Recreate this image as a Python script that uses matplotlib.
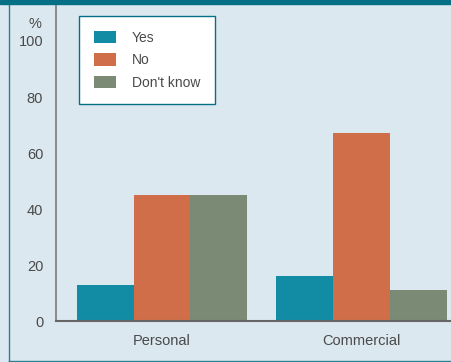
import numpy as np
import matplotlib.pyplot as plt
from matplotlib.patches import Rectangle
from matplotlib.lines import Line2D

# --- data ---
categories = ["Personal", "Commercial"]
series = ["Yes", "No", "Don't know"]
yes_vals = [13, 16]
no_vals = [45, 67]
dk_vals = [45, 11]
yticks = [0, 20, 40, 60, 80, 100]

colors = ["#128ba5", "#cf6e48", "#7a8a74"]
bg = "#dbe8ef"
teal = "#056f86"
txt = "#4a4a4a"

plt.rcParams['font.family'] = ['Liberation Sans', 'DejaVu Sans']

fig = plt.figure(figsize=(4.52, 3.62), dpi=100, facecolor=bg)
ax = fig.add_axes([55.7 / 452, (362 - 321.3) / 362, 1 - 55.7 / 452, (321.3 - 4) / 362])
ax.set_facecolor(bg)

x = np.arange(len(categories))
w = 0.2857
for i, (vals, name) in enumerate(zip([yes_vals, no_vals, dk_vals], series)):
    ax.bar(x + (i - 1) * w, vals, width=w, color=colors[i], label=name, zorder=2)

ax.set_xlim(-0.533, 1.454)
ax.set_ylim(0, 113.2)
ax.set_yticks(yticks)
ax.set_xticks(x)
ax.set_xticklabels(categories)
ax.tick_params(axis='both', length=0, labelsize=10.5, labelcolor=txt)
ax.tick_params(axis='y', pad=9)
ax.tick_params(axis='x', pad=9)

for s in ['top', 'right']:
    ax.spines[s].set_visible(False)
ax.spines['left'].set_color('#7a7a7a')
ax.spines['left'].set_linewidth(1.2)
ax.spines['bottom'].set_color('#666666')
ax.spines['bottom'].set_linewidth(1.5)

# percent sign above the 100 label
fig.text(35 / 452, 1 - 24 / 362, "%", ha='center', va='center', fontsize=10.5, color=txt)

leg = ax.legend(loc='upper left', bbox_to_anchor=((79 - 55.7) / 396.3, (321.3 - 16) / 317.3),
                fontsize=10, handlelength=1.65, handleheight=1.05, handletextpad=1.1,
                labelspacing=0.6, borderpad=1.05, borderaxespad=0, fancybox=False,
                framealpha=1, edgecolor=teal, facecolor='white')
leg.get_frame().set_linewidth(1.0)
for t in leg.get_texts():
    t.set_color(txt)

# frame around the figure
fig.patches.append(Rectangle((0, 1 - 4 / 362), 1, 4 / 362, transform=fig.transFigure,
                             color=teal, zorder=5))
fig.lines.append(Line2D([9 / 452, 9 / 452], [0, 1], transform=fig.transFigure,
                        color='#2a7f93', linewidth=1.0))
fig.lines.append(Line2D([9 / 452, 1], [1 / 362, 1 / 362], transform=fig.transFigure,
                        color='#2a7f93', linewidth=1.0))

fig.savefig("out.png", dpi=100, facecolor=bg)
